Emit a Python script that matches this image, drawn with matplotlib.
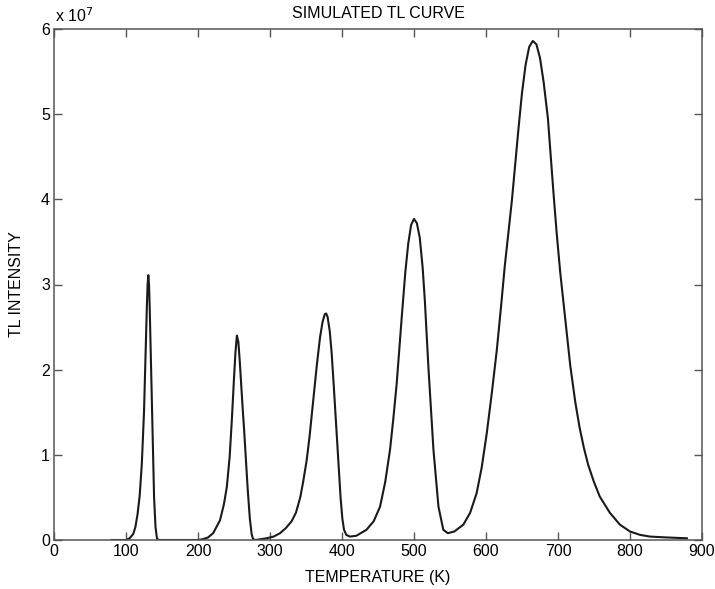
import numpy as np
import matplotlib.pyplot as plt
from matplotlib.ticker import FuncFormatter

# temperature (K) and TL intensity (units of 1e7)
temp = [80, 90, 100, 105, 110, 113, 116, 119, 122, 125, 127, 129, 130, 131, 132,
        133, 135, 137, 139, 141, 143, 145,
        180, 200, 207, 214, 221, 230.5, 236, 240, 244, 247, 250, 252, 254,
        256, 258, 260, 262, 264, 266.5, 269, 272, 274.5, 276.5, 280,
        295, 305, 314, 322, 330, 336, 342, 346, 351, 355, 360, 365, 369.5, 373, 376, 378,
        380, 383, 385.6, 389, 392.6, 395.5, 398, 400.5, 402.8, 406, 411,
        420, 434, 444, 452.8, 460, 466.7, 471, 476, 483, 488, 492, 496, 500,
        504, 508, 512, 515, 520, 527, 534, 540.7, 547,
        556, 568.5, 578, 587, 594, 601, 608, 615, 621, 626, 631, 636,
        641, 645, 650, 655, 660, 665, 670, 675, 680, 686, 693.5, 698, 703,
        710, 717, 724, 730, 736, 742, 750, 758, 772, 786, 800, 814, 828,
        851, 879]
tl = [0, 0, 0.0, 0.02, 0.07, 0.15, 0.3, 0.52, 0.9, 1.5, 2.15, 2.75, 3.0, 3.11, 3.0,
      2.7, 1.95, 1.15, 0.5, 0.15, 0.02, 0.0,
      0.0, 0.0, 0.01, 0.03, 0.08, 0.23, 0.42, 0.62, 0.98, 1.41, 1.9, 2.2, 2.4,
      2.33, 2.1, 1.82, 1.55, 1.3, 0.95, 0.6, 0.25, 0.07, 0.01, 0.0,
      0.02, 0.04, 0.08, 0.14, 0.22, 0.32, 0.5, 0.68, 0.94, 1.22, 1.64, 2.05, 2.38, 2.56, 2.65, 2.66,
      2.62, 2.45, 2.2, 1.75, 1.25, 0.85, 0.5, 0.25, 0.12, 0.06, 0.04,
      0.05, 0.12, 0.22, 0.39, 0.68, 1.06, 1.4, 1.84, 2.62, 3.15, 3.48, 3.7, 3.77,
      3.72, 3.55, 3.2, 2.82, 2.03, 1.06, 0.39, 0.12, 0.08,
      0.1, 0.18, 0.32, 0.55, 0.85, 1.25, 1.72, 2.23, 2.75, 3.21, 3.6, 3.99,
      4.45, 4.82, 5.25, 5.58, 5.79, 5.86, 5.82, 5.66, 5.38, 4.95, 4.1, 3.62, 3.15,
      2.6, 2.05, 1.62, 1.32, 1.08, 0.88, 0.68, 0.51, 0.32, 0.18, 0.1, 0.06, 0.04,
      0.03, 0.02]

xticks = list(range(0, 901, 100))
yticks = [0, 1, 2, 3, 4, 5, 6]

plt.rcParams['font.family'] = ['Liberation Sans', 'DejaVu Sans']
plt.rcParams['font.size'] = 11.5

fig = plt.figure(figsize=(7.15, 5.89), dpi=100)
ax = fig.add_axes([54 / 715, 1 - 540 / 589, 648 / 715, 511 / 589])

ax.plot(temp, np.array(tl) * 1e7, color='#1a1a1a', lw=1.5)

ax.set_xlim(0, 900)
ax.set_ylim(0, 6e7)
ax.set_xticks(xticks)
ax.set_yticks([v * 1e7 for v in yticks])
ax.yaxis.set_major_formatter(FuncFormatter(lambda v, p: '%d' % round(v / 1e7)))
ax.tick_params(direction='in', length=6, width=1, color='#555555',
               top=True, right=True, labelsize=11.5, pad=3)
for s in ax.spines.values():
    s.set_color('#555555')
    s.set_linewidth(1.1)

ax.set_title('SIMULATED TL CURVE', fontsize=11.5, pad=8)
ax.set_xlabel('TEMPERATURE (K)', fontsize=11.5, labelpad=8)
ax.set_ylabel('TL INTENSITY', fontsize=11.5, labelpad=12)
ax.text(0.002, 1.008, 'x 10$^7$', transform=ax.transAxes, fontsize=11.5,
        ha='left', va='bottom')

fig.savefig('out.png', dpi=100)
